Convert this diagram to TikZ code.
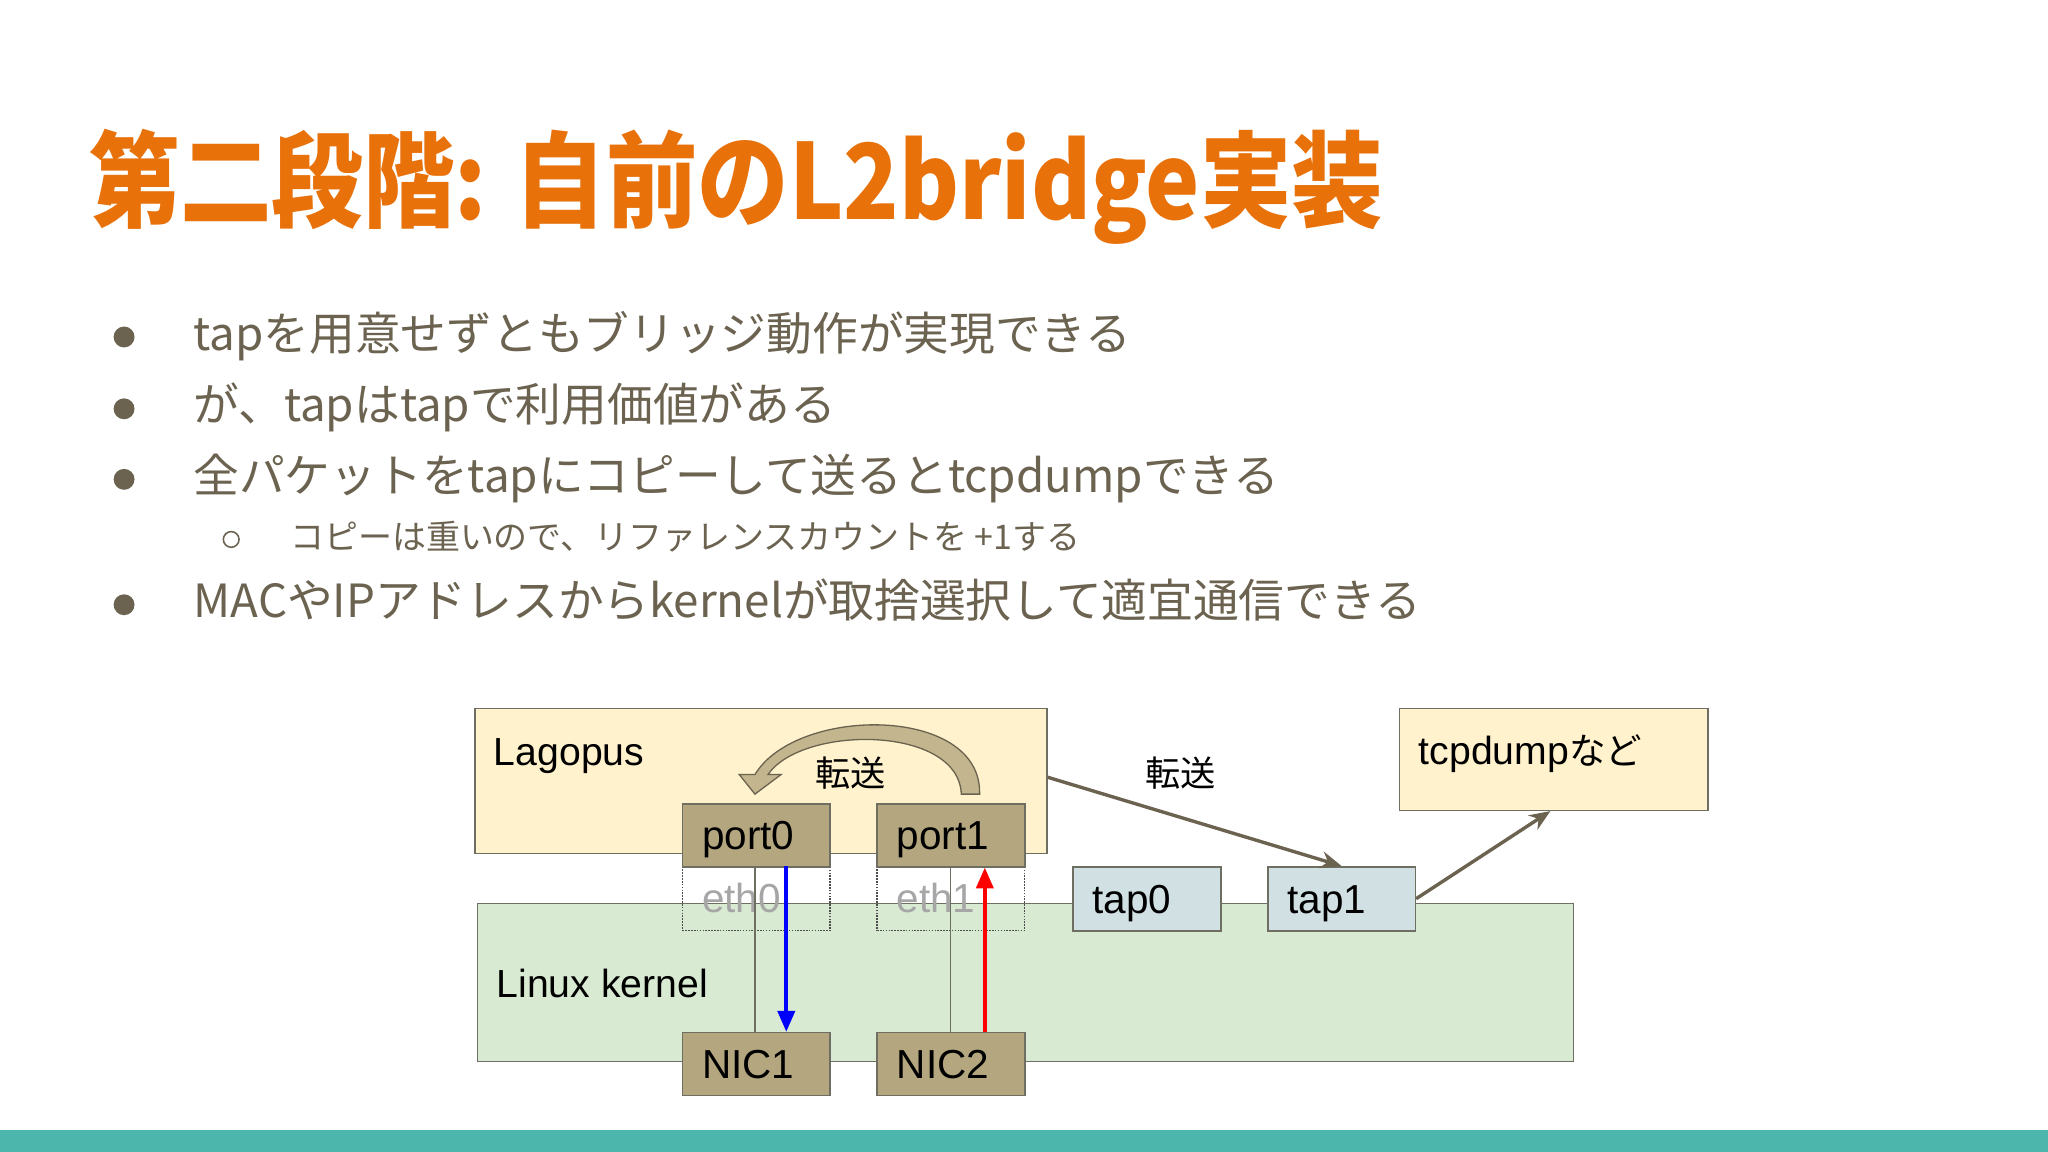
\documentclass[tikz,border=0pt]{standalone}
\usepackage{fontspec}
\usetikzlibrary{arrows.meta}
\setmainfont{Liberation Sans}
\newfontfamily\jp{Noto Sans CJK JP}
\definecolor{ttl}{HTML}{E8710A}
\definecolor{txt}{HTML}{6B6350}
\definecolor{yel}{HTML}{FFF2CC}
\definecolor{grn}{HTML}{D9EAD3}
\definecolor{tan}{HTML}{B4A77F}
\definecolor{blu}{HTML}{D0E0E3}
\definecolor{teal}{HTML}{4DB6AC}
\definecolor{edge}{HTML}{6E6E62}
\tikzset{
 box/.style={draw=edge,line width=1.2pt,anchor=north west,inner sep=0pt},
 lbl/.style={anchor=base west,font=\fontsize{30}{30}\selectfont,inner sep=0pt},
 portbox/.style={box,fill=tan,minimum width=113,minimum height=48,text width=83,text height=24,text depth=2,inner xsep=0pt,align=left,font=\fontsize{31}{32}\selectfont},
 tapbox/.style={portbox,fill=blu,minimum height=49},
 ethbox/.style={portbox,fill=none,draw=black!70,densely dotted,line width=1pt,minimum height=49,text=black!35},
 bul/.style={anchor=base west,font=\jp\fontsize{35}{40}\selectfont,text=txt,inner sep=0pt},
 flow/.style={draw=txt,line width=2.6pt,-{Stealth[length=16pt,width=13pt]}},
}
\begin{document}
\begin{tikzpicture}[x=1pt,y=-1pt]
\useasboundingbox[fill=white] (0,0) rectangle (1568,882);
\fill[teal] (0,865) rectangle (1568,882);
\node[anchor=base west,inner sep=0pt,text=ttl,xscale=0.875,transform shape,font=\jp\bfseries\fontsize{80}{84}\selectfont] (title) at (68,168) {第二段階: 自前のL2bridge実装};
% bullets
\foreach \yy in {255,310,364,460}{\fill[txt] (95,\yy+3) circle (8);}
\draw[txt,line width=1.2pt] (177,413) circle (6);
\node[bul] (b1) at (148,268) {tapを用意せずともブリッジ動作が実現できる};
\node[bul] (b2) at (148,323) {が、tapはtapで利用価値がある};
\node[bul] (b3) at (148,377) {全パケットをtapにコピーして送るとtcpdumpできる};
\node[bul,font=\jp\fontsize{26}{30}\selectfont] (b4) at (222,421) {コピーは重いので、リファレンスカウントを +1する};
\node[bul] (b5) at (148,473) {MACやIPアドレスからkernelが取捨選択して適宜通信できる};
% big boxes
\node[box,fill=grn,minimum width=839,minimum height=121] (linux) at (365,691) {};
\node[box,fill=yel,minimum width=438,minimum height=111] (lago) at (363,542) {};
\node[box,fill=yel,minimum width=236,minimum height=78] (tcp) at (1071,542) {};
\node[lbl] (lagot) at (378,586) {Lagopus};
\node[lbl] (linuxt) at (380,764) {Linux kernel};
\node[lbl] (tcpt) at (1086,585) {tcpdump{\jp\fontsize{28}{30}\selectfont など}};
% eth dotted
\node[ethbox] (eth0) at (522,663) {eth0};
\node[ethbox] (eth1) at (671,663) {eth1};
% ports, nics
\node[portbox] (port0) at (522,615) {port0};
\node[portbox] (port1) at (671,615) {port1};
\node[portbox] (nic1) at (522,790) {NIC1};
\node[portbox] (nic2) at (671,790) {NIC2};
\node[tapbox] (tap0) at (821,663) {tap0};
\node[tapbox] (tap1) at (970,663) {tap1};
% thin lines
\draw[edge,line width=1pt] (port0.south) ++(-1,0) coordinate (p0s) -- (p0s |- nic1.north);
\draw[edge,line width=1pt] (port1.south) ++(-0.5,0) coordinate (p1s) -- (p1s |- nic2.north);
\draw[blue,line width=3pt,-{Triangle[length=16pt,width=13pt]}] (602,663) coordinate (bs) -- (bs |- nic1.north);
\draw[red,line width=3pt,-{Triangle[length=16pt,width=13pt]}] (754,790) coordinate (rs) -- (rs |- port1.south);
% curved hollow arrow
\filldraw[draw=txt,fill=tan!80!yel,line width=1pt] (750,608) .. controls (752,540) and (610,540) .. (578,593) -- (566,593) -- (578,608) -- (598,593) -- (588,593) .. controls (614,555) and (734,555) .. (736,608) -- cycle;
\node[anchor=base,font=\jp\fontsize{27}{30}\selectfont] (t1) at (651,602) {転送};
\node[anchor=base,font=\jp\fontsize{27}{30}\selectfont] (t2) at (904,602) {転送};
% flows
\draw[flow] (lago.east) ++(0,-3) coordinate (le) -- (tap1.north);
\coordinate (tcpin) at (1187,621);
\draw[flow] (tap1.east) -- (tcpin);
\end{tikzpicture}
\end{document}
